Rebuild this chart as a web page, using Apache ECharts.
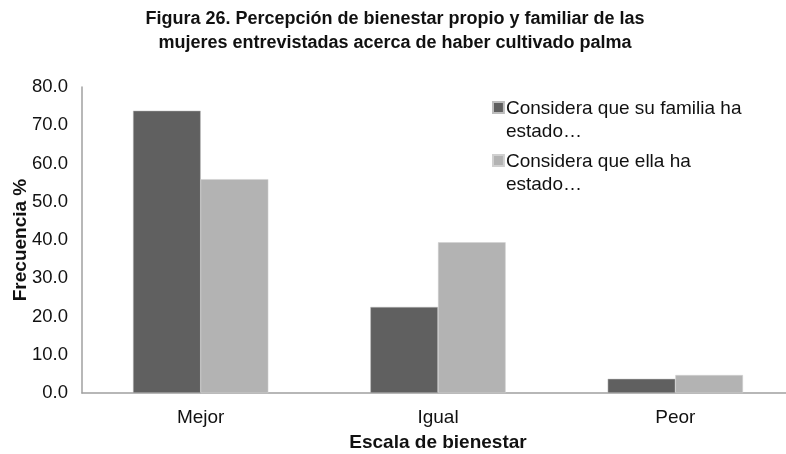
<!DOCTYPE html>
<html>
<head>
<meta charset="utf-8">
<script src="https://cdn.jsdelivr.net/npm/echarts@6/dist/echarts.min.js"></script>
<style>
  html, body { margin: 0; padding: 0; background: #fff; }
  #chart { width: 786px; height: 454px; }
</style>
</head>
<body>
<div id="chart"></div>
<script>
const categories = ['Mejor', 'Igual', 'Peor']
const familia = [73.8, 22.5, 3.7]
const ella = [55.9, 39.4, 4.7]
const yTicks = [0, 10, 20, 30, 40, 50, 60, 70, 80]
const seriesNames = ['Considera que su familia ha\nestado…', 'Considera que ella ha\nestado…']

const font = 'Liberation Sans, Arial, sans-serif'
const chart = echarts.init(document.getElementById('chart'))

// square at the top of a tall box, so the marker lines up with the first text line
const legendIcon = 'path://M0,0L10,0L10,10L0,10Z M0,33'

chart.setOption({
  animation: false,
  textStyle: { fontFamily: font },
  title: {
    text: 'Figura 26. Percepción de bienestar propio y familiar de las\nmujeres entrevistadas acerca de haber cultivado palma',
    left: 390,
    top: 2,
    textAlign: 'center',
    textStyle: { fontSize: 18, fontWeight: 'bold', color: '#111', lineHeight: 24, fontFamily: font },
  },
  legend: {
    orient: 'vertical',
    left: 487,
    top: 92,
    itemWidth: 11,
    itemHeight: 36,
    itemGap: 7,
    icon: legendIcon,
    textStyle: { fontSize: 19, color: '#111', lineHeight: 23, fontFamily: font, padding: [0, 0, 0, -3] },
    data: seriesNames,
  },
  grid: { left: 82, right: -8, top: 87, bottom: 61, containLabel: false, outerBoundsMode: 'none' },
  xAxis: {
    type: 'category',
    data: categories,
    name: 'Escala de bienestar',
    nameLocation: 'middle',
    nameGap: 40,
    nameMoveOverlap: false,
    nameTextStyle: { fontSize: 19, fontWeight: 'bold', color: '#111', fontFamily: font },
    axisTick: { show: false },
    axisLine: { lineStyle: { color: '#a0a0a0', width: 1.5 } },
    axisLabel: { fontSize: 19, color: '#111', margin: 15, fontFamily: font },
  },
  yAxis: {
    type: 'value',
    min: yTicks[0],
    max: yTicks[yTicks.length - 1],
    interval: yTicks[1] - yTicks[0],
    name: 'Frecuencia %',
    nameLocation: 'middle',
    nameGap: 52,
    nameMoveOverlap: false,
    nameRotate: 90,
    nameTextStyle: { fontSize: 19, fontWeight: 'bold', color: '#111', fontFamily: font },
    axisLine: { show: true, lineStyle: { color: '#a0a0a0', width: 1.5 } },
    axisTick: { show: false },
    splitLine: { show: false },
    axisLabel: { fontSize: 18.5, color: '#111', margin: 14, formatter: (v) => v.toFixed(1), fontFamily: font },
  },
  series: [
    {
      name: seriesNames[0],
      type: 'bar',
      data: familia,
      barGap: '0%',
      barCategoryGap: '43%',
      itemStyle: { color: '#606060', borderColor: '#bdbdbd', borderWidth: 0.5 },
    },
    {
      name: seriesNames[1],
      type: 'bar',
      data: ella,
      itemStyle: { color: '#b3b3b3', borderColor: '#d0d0d0', borderWidth: 0.5 },
    },
  ],
})
</script>
</body>
</html>
